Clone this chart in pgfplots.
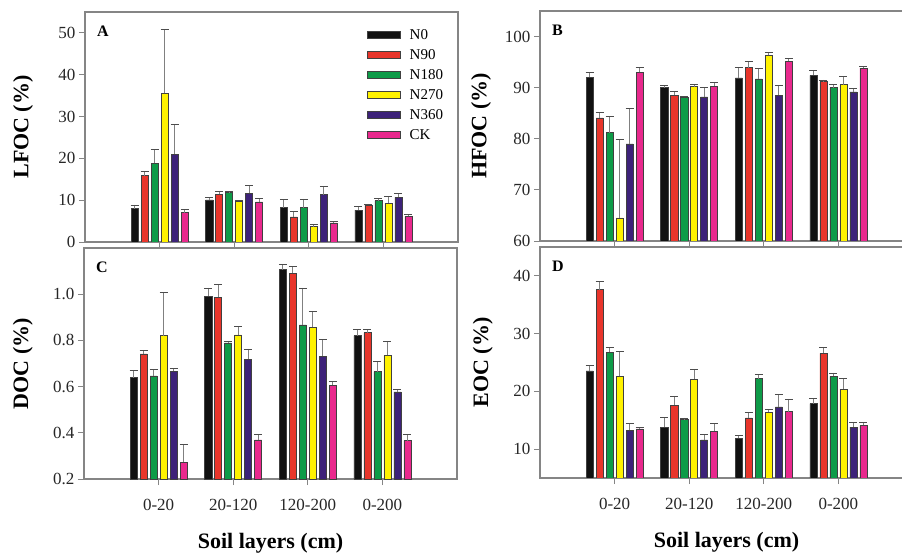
\documentclass[border=0pt]{standalone}
\usepackage{pgfplots}
\usepackage{pgfplotstable}
\pgfplotsset{compat=1.18}
\usepackage{fontspec}
\setmainfont{Liberation Serif}

\definecolor{cN0}{HTML}{111111}
\definecolor{cN90}{HTML}{E8352B}
\definecolor{cN180}{HTML}{0E9B48}
\definecolor{cN270}{HTML}{FFF200}
\definecolor{cN360}{HTML}{3D2279}
\definecolor{cCK}{HTML}{E9298D}
\definecolor{axgray}{HTML}{858585}

\pgfplotstableread{
c N0 eN0 N90 eN90 N180 eN180 N270 eN270 N360 eN360 CK eCK
1 8.0 0.85 15.9 1.0 18.8 3.3 35.6 15.2 21.0 7.1 7.0 0.8
2 10.1 0.5 11.4 0.6 11.8 0.2 9.8 0.2 11.7 1.9 9.6 0.8
3 8.2 2.0 6.0 1.3 8.2 2.1 3.7 0.6 11.3 1.9 4.6 0.4
4 7.6 0.9 8.8 0.3 9.9 0.6 9.3 1.6 10.7 0.9 6.1 0.4
}\tabA
\pgfplotstableread{
c N0 eN0 N90 eN90 N180 eN180 N270 eN270 N360 eN360 CK eCK
1 92.05 0.95 84.1 1.1 81.2 3.2 64.5 15.3 79.0 6.9 93.0 0.9
2 90.0 0.4 88.5 0.7 88.1 0.2 90.2 0.5 88.2 1.8 90.3 0.7
3 91.9 2.1 93.9 1.3 91.7 2.1 96.3 0.6 88.5 2.0 95.2 0.6
4 92.4 1.0 91.2 0.3 90.0 0.7 90.6 1.6 89.2 0.7 93.8 0.4
}\tabB
\pgfplotstableread{
c N0 eN0 N90 eN90 N180 eN180 N270 eN270 N360 eN360 CK eCK
1 0.639 0.031 0.742 0.016 0.646 0.029 0.821 0.186 0.667 0.013 0.273 0.078
2 0.991 0.036 0.986 0.057 0.789 0.009 0.824 0.037 0.718 0.045 0.369 0.023
3 1.106 0.023 1.090 0.030 0.867 0.160 0.858 0.066 0.732 0.074 0.606 0.018
4 0.821 0.027 0.834 0.014 0.665 0.044 0.735 0.063 0.577 0.009 0.366 0.028
}\tabC
\pgfplotstableread{
c N0 eN0 N90 eN90 N180 eN180 N270 eN270 N360 eN360 CK eCK
1 23.55 0.95 37.6 1.5 26.8 0.8 22.6 4.4 13.3 1.1 13.5 0.3
2 13.75 1.75 17.6 1.6 15.1 0.3 22.1 1.8 11.6 0.9 13.1 1.3
3 11.9 0.5 15.4 1.0 22.2 0.7 16.4 0.5 17.3 2.2 16.5 2.2
4 17.9 0.9 26.6 1.0 22.6 0.6 20.4 1.9 13.8 0.75 14.1 0.45
}\tabD

\newcommand{\tickfont}{\fontsize{17}{20}\selectfont}
\newcommand{\labfont}{\fontsize{22}{26}\selectfont\bfseries}

\pgfplotsset{
  panel/.style={
    scale only axis, width=373pt, height=230pt,
    xmin=0, xmax=5, xtick={1,2,3,4},
    tick pos=left, tick align=outside, major tick length=6pt,
    axis line style={draw=axgray, line width=1.1pt},
    every tick/.style={draw=axgray, line width=0.9pt},
    ticklabel style={font=\tickfont, text=black!85},
    /pgf/number format/assume math mode=true,
    ylabel style={font=\labfont, anchor=center},
    xlabel style={font=\labfont, anchor=center, at={(axis description cs:0.5,-0.278)}},
    xticklabel style={yshift=-11pt},
    clip=true,
  },
  sbar/.style={ybar, bar width=0.095, bar shift=0pt, draw=black!75, line width=0.5pt, fill=#1, forget plot,
    error bars/y dir=plus, error bars/y explicit,
    error bars/error bar style={draw=gray, line width=0.7pt},
    error bars/error mark options={draw=black!70, line width=0.7pt, mark size=4pt, rotate=90}},
}

\newcommand{\allbars}[1]{%
  \addplot[sbar=cN0] table[x expr=\thisrow{c}-0.335, y=N0, y error=eN0] {#1};
  \addplot[sbar=cN90] table[x expr=\thisrow{c}-0.201, y=N90, y error=eN90] {#1};
  \addplot[sbar=cN180] table[x expr=\thisrow{c}-0.067, y=N180, y error=eN180] {#1};
  \addplot[sbar=cN270] table[x expr=\thisrow{c}+0.067, y=N270, y error=eN270] {#1};
  \addplot[sbar=cN360] table[x expr=\thisrow{c}+0.201, y=N360, y error=eN360] {#1};
  \addplot[sbar=cCK] table[x expr=\thisrow{c}+0.335, y=CK, y error=eCK] {#1};
}

\begin{document}
\begin{tikzpicture}
\useasboundingbox (0,0) rectangle (902pt,554pt);
% Panel A
\begin{axis}[panel, at={(85pt,312pt)}, anchor=south west, height=230pt,
  ymin=0, ymax=55, ytick={0,10,20,30,40,50}, xticklabels={},
  ylabel={LFOC (\%)}, ylabel style={at={(axis description cs:-0.166,0.5)}},
  legend style={at={(axis description cs:0.756,0.935)}, anchor=north west, draw=none, fill=none,
    font=\fontsize{15}{17}\selectfont, row sep=4.6pt, column sep=7pt, inner sep=0pt, cells={anchor=west}},
  legend image code/.code={\draw[#1] (0pt,-3.5pt) rectangle (33pt,3.5pt);},
]
\allbars{\tabA}
\addlegendimage{fill=cN0, draw=black!75, line width=0.5pt}
\addlegendimage{fill=cN90, draw=black!75, line width=0.5pt}
\addlegendimage{fill=cN180, draw=black!75, line width=0.5pt}
\addlegendimage{fill=cN270, draw=black!75, line width=0.5pt}
\addlegendimage{fill=cN360, draw=black!75, line width=0.5pt}
\addlegendimage{fill=cCK, draw=black!75, line width=0.5pt}
\legend{N0,N90,N180,N270,N360,CK}
\node[font=\fontsize{16}{18}\selectfont\bfseries, anchor=north west, inner sep=0pt] at (rel axis cs:0.032,0.939) {A};
\end{axis}
% Panel B
\begin{axis}[panel, at={(540pt,313pt)}, anchor=south west, height=230pt,
  ymin=60, ymax=105, ytick={60,70,80,90,100}, xticklabels={},
  ylabel={HFOC (\%)}, ylabel style={at={(axis description cs:-0.158,0.5)}},
]
\allbars{\tabB}
\node[font=\fontsize{16}{18}\selectfont\bfseries, anchor=north west, inner sep=0pt] at (rel axis cs:0.032,0.939) {B};
\end{axis}
% Panel C
\begin{axis}[panel, at={(84pt,75pt)}, anchor=south west, height=231pt,
  ymin=0.2, ymax=1.2, ytick={0.2,0.4,0.6,0.8,1.0},
  yticklabel style={/pgf/number format/.cd, fixed, fixed zerofill, precision=1},
  xticklabels={0-20,20-120,120-200,0-200},
  xlabel={Soil layers (cm)},
  ylabel={DOC (\%)}, ylabel style={at={(axis description cs:-0.164,0.5)}},
]
\allbars{\tabC}
\node[font=\fontsize{16}{18}\selectfont\bfseries, anchor=north west, inner sep=0pt] at (rel axis cs:0.032,0.939) {C};
\end{axis}
% Panel D
\begin{axis}[panel, at={(540pt,76pt)}, anchor=south west, height=231pt,
  ymin=5, ymax=45, ytick={10,20,30,40},
  xticklabels={0-20,20-120,120-200,0-200},
  xlabel={Soil layers (cm)},
  ylabel={EOC (\%)}, ylabel style={at={(axis description cs:-0.153,0.5)}},
]
\allbars{\tabD}
\node[font=\fontsize{16}{18}\selectfont\bfseries, anchor=north west, inner sep=0pt] at (rel axis cs:0.032,0.939) {D};
\end{axis}
\end{tikzpicture}
\end{document}
